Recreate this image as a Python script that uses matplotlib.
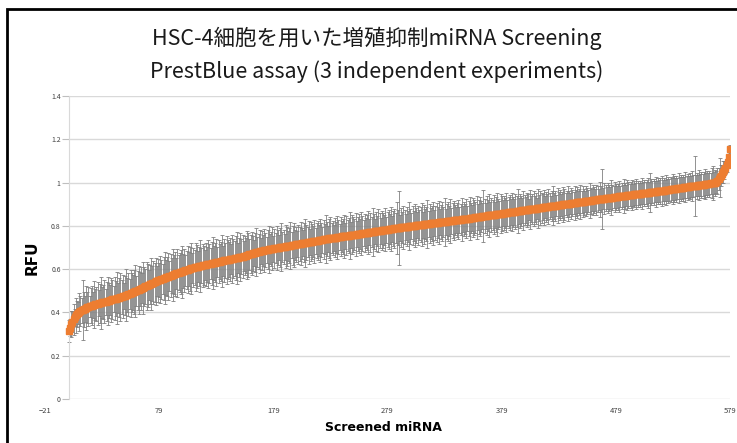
import numpy as np
import matplotlib
matplotlib.use("Agg")
import matplotlib.pyplot as plt
from matplotlib.patches import Rectangle

plt.rcParams['font.family'] = ['Noto Sans CJK JP', 'DejaVu Sans']

title = "HSC-4細胞を用いた増殖抑制miRNA Screening\nPrestBlue assay (3 independent experiments)"
xlabel = "Screened miRNA"
ylabel = "RFU"
xticks = [-21, 79, 179, 279, 379, 479, 579]
yticks = [0, 0.2, 0.4, 0.6, 0.8, 1.0, 1.2, 1.4]
ytick_labels = ["0", "0.2", "0.4", "0.6", "0.8", "1", "1.2", "1.4"]

# mean RFU per miRNA, sorted
rfu = [
    0.315, 0.330, 0.345, 0.358, 0.368, 0.378, 0.386, 0.392, 0.398, 0.402, 0.406, 0.409, 0.412, 0.415, 0.418, 0.420, 0.423, 0.426, 0.428, 0.431,
    0.432, 0.434, 0.436, 0.437, 0.439, 0.440, 0.442, 0.443, 0.445, 0.446, 0.448, 0.449, 0.450, 0.452, 0.453, 0.455, 0.457, 0.458, 0.460, 0.461,
    0.463, 0.464, 0.466, 0.468, 0.469, 0.471, 0.472, 0.474, 0.476, 0.477, 0.479, 0.480, 0.483, 0.485, 0.488, 0.490, 0.493, 0.495, 0.498, 0.500,
    0.503, 0.505, 0.508, 0.510, 0.513, 0.515, 0.518, 0.520, 0.523, 0.525, 0.528, 0.530, 0.533, 0.535, 0.538, 0.540, 0.543, 0.545, 0.548, 0.550,
    0.552, 0.554, 0.556, 0.558, 0.560, 0.562, 0.564, 0.566, 0.568, 0.570, 0.572, 0.574, 0.576, 0.578, 0.580, 0.582, 0.584, 0.586, 0.587, 0.589,
    0.591, 0.593, 0.594, 0.596, 0.598, 0.600, 0.601, 0.603, 0.605, 0.607, 0.608, 0.610, 0.611, 0.612, 0.614, 0.615, 0.616, 0.617, 0.619, 0.620,
    0.621, 0.622, 0.623, 0.625, 0.626, 0.627, 0.628, 0.629, 0.630, 0.631, 0.632, 0.634, 0.635, 0.636, 0.637, 0.638, 0.640, 0.641, 0.642, 0.643,
    0.644, 0.645, 0.646, 0.647, 0.648, 0.650, 0.651, 0.652, 0.653, 0.654, 0.655, 0.657, 0.658, 0.660, 0.662, 0.663, 0.665, 0.666, 0.668, 0.670,
    0.671, 0.673, 0.674, 0.676, 0.678, 0.679, 0.681, 0.682, 0.684, 0.685, 0.686, 0.687, 0.688, 0.689, 0.690, 0.691, 0.692, 0.693, 0.694, 0.695,
    0.696, 0.697, 0.698, 0.699, 0.700, 0.701, 0.702, 0.702, 0.703, 0.704, 0.705, 0.706, 0.707, 0.708, 0.709, 0.710, 0.711, 0.712, 0.713, 0.714,
    0.715, 0.716, 0.717, 0.718, 0.719, 0.720, 0.721, 0.722, 0.723, 0.724, 0.724, 0.725, 0.726, 0.727, 0.728, 0.729, 0.730, 0.731, 0.732, 0.733,
    0.734, 0.735, 0.736, 0.737, 0.738, 0.739, 0.740, 0.741, 0.742, 0.742, 0.743, 0.744, 0.745, 0.746, 0.746, 0.747, 0.748, 0.749, 0.750, 0.751,
    0.751, 0.752, 0.753, 0.754, 0.755, 0.755, 0.756, 0.757, 0.758, 0.759, 0.760, 0.760, 0.761, 0.762, 0.763, 0.764, 0.764, 0.765, 0.766, 0.767,
    0.768, 0.769, 0.769, 0.770, 0.771, 0.772, 0.773, 0.773, 0.774, 0.775, 0.776, 0.777, 0.778, 0.778, 0.779, 0.780, 0.781, 0.782, 0.782, 0.783,
    0.784, 0.785, 0.786, 0.787, 0.787, 0.788, 0.789, 0.790, 0.791, 0.791, 0.792, 0.793, 0.793, 0.794, 0.795, 0.795, 0.796, 0.797, 0.798, 0.798,
    0.799, 0.800, 0.800, 0.801, 0.802, 0.802, 0.803, 0.804, 0.805, 0.805, 0.806, 0.807, 0.807, 0.808, 0.809, 0.809, 0.810, 0.811, 0.812, 0.812,
    0.813, 0.814, 0.814, 0.815, 0.816, 0.816, 0.817, 0.818, 0.819, 0.819, 0.820, 0.821, 0.821, 0.822, 0.823, 0.823, 0.824, 0.825, 0.826, 0.826,
    0.827, 0.828, 0.828, 0.829, 0.830, 0.830, 0.831, 0.832, 0.833, 0.834, 0.834, 0.835, 0.836, 0.837, 0.838, 0.838, 0.839, 0.840, 0.841, 0.841,
    0.842, 0.843, 0.844, 0.845, 0.845, 0.846, 0.847, 0.848, 0.848, 0.849, 0.850, 0.851, 0.852, 0.852, 0.853, 0.854, 0.855, 0.855, 0.856, 0.857,
    0.858, 0.859, 0.859, 0.860, 0.861, 0.862, 0.862, 0.863, 0.864, 0.865, 0.866, 0.866, 0.867, 0.868, 0.869, 0.869, 0.870, 0.871, 0.872, 0.873,
    0.873, 0.874, 0.875, 0.876, 0.876, 0.877, 0.878, 0.879, 0.879, 0.880, 0.881, 0.882, 0.883, 0.883, 0.884, 0.885, 0.886, 0.886, 0.887, 0.888,
    0.889, 0.890, 0.890, 0.891, 0.892, 0.893, 0.893, 0.894, 0.895, 0.896, 0.896, 0.897, 0.898, 0.899, 0.899, 0.900, 0.901, 0.902, 0.903, 0.903,
    0.904, 0.905, 0.906, 0.906, 0.907, 0.908, 0.909, 0.909, 0.910, 0.911, 0.912, 0.912, 0.913, 0.914, 0.915, 0.916, 0.916, 0.917, 0.918, 0.919,
    0.919, 0.920, 0.921, 0.922, 0.922, 0.923, 0.924, 0.925, 0.926, 0.926, 0.927, 0.928, 0.928, 0.929, 0.930, 0.931, 0.931, 0.932, 0.933, 0.933,
    0.934, 0.935, 0.936, 0.936, 0.937, 0.938, 0.938, 0.939, 0.940, 0.941, 0.941, 0.942, 0.943, 0.943, 0.944, 0.945, 0.946, 0.946, 0.947, 0.948,
    0.948, 0.949, 0.950, 0.951, 0.951, 0.952, 0.953, 0.953, 0.954, 0.955, 0.956, 0.956, 0.957, 0.958, 0.958, 0.959, 0.960, 0.961, 0.961, 0.962,
    0.963, 0.963, 0.964, 0.965, 0.966, 0.967, 0.967, 0.968, 0.969, 0.970, 0.971, 0.971, 0.972, 0.973, 0.974, 0.974, 0.975, 0.976, 0.977, 0.978,
    0.978, 0.979, 0.980, 0.981, 0.982, 0.982, 0.983, 0.984, 0.985, 0.986, 0.986, 0.987, 0.988, 0.989, 0.990, 0.990, 0.991, 0.992, 0.993, 0.994,
    0.994, 0.995, 0.996, 0.997, 0.998, 0.999, 1.000, 1.002, 1.008, 1.016, 1.024, 1.032, 1.040, 1.049, 1.058, 1.068, 1.080, 1.095, 1.120, 1.155,
]

# error bar half-widths (SD)
rfu_err = [
    0.05, 0.04, 0.06, 0.05, 0.07, 0.04, 0.08, 0.06, 0.05, 0.09, 0.07, 0.06, 0.14, 0.08, 0.06, 0.10, 0.07, 0.09, 0.05, 0.08,
    0.09, 0.06, 0.11, 0.07, 0.08, 0.10, 0.06, 0.09, 0.12, 0.07, 0.08, 0.10, 0.06, 0.09, 0.11, 0.08, 0.07, 0.10, 0.09, 0.06,
    0.10, 0.08, 0.12, 0.07, 0.09, 0.11, 0.08, 0.10, 0.06, 0.09, 0.12, 0.08, 0.10, 0.07, 0.11, 0.09, 0.08, 0.10, 0.12, 0.07,
    0.09, 0.11, 0.08, 0.10, 0.07, 0.12, 0.09, 0.08, 0.11, 0.10, 0.07, 0.09, 0.12, 0.08, 0.10, 0.09, 0.11, 0.07, 0.10, 0.08,
    0.11, 0.09, 0.07, 0.10, 0.12, 0.08, 0.09, 0.11, 0.07, 0.10, 0.08, 0.12, 0.09, 0.10, 0.07, 0.11, 0.08, 0.09, 0.10, 0.12,
    0.08, 0.10, 0.07, 0.09, 0.11, 0.08, 0.10, 0.12, 0.07, 0.09, 0.08, 0.11, 0.10, 0.07, 0.09, 0.12, 0.08, 0.10, 0.09, 0.07,
    0.10, 0.08, 0.11, 0.09, 0.07, 0.10, 0.12, 0.08, 0.09, 0.11, 0.07, 0.10, 0.08, 0.09, 0.12, 0.07, 0.10, 0.08, 0.11, 0.09,
    0.08, 0.10, 0.07, 0.11, 0.09, 0.08, 0.10, 0.12, 0.07, 0.09, 0.11, 0.08, 0.10, 0.07, 0.09, 0.08, 0.11, 0.10, 0.07, 0.09,
    0.10, 0.08, 0.06, 0.09, 0.11, 0.07, 0.08, 0.10, 0.06, 0.09, 0.07, 0.10, 0.08, 0.06, 0.09, 0.11, 0.07, 0.08, 0.10, 0.06,
    0.09, 0.07, 0.10, 0.08, 0.06, 0.09, 0.11, 0.07, 0.08, 0.06, 0.10, 0.09, 0.07, 0.08, 0.11, 0.06, 0.09, 0.10, 0.07, 0.08,
    0.06, 0.09, 0.08, 0.10, 0.07, 0.06, 0.09, 0.11, 0.08, 0.07, 0.10, 0.06, 0.09, 0.08, 0.07, 0.10, 0.06, 0.08, 0.09, 0.07,
    0.10, 0.08, 0.06, 0.09, 0.07, 0.11, 0.08, 0.06, 0.09, 0.10, 0.07, 0.08, 0.06, 0.09, 0.07, 0.10, 0.08, 0.06, 0.09, 0.07,
    0.08, 0.10, 0.06, 0.09, 0.07, 0.08, 0.11, 0.06, 0.09, 0.08, 0.07, 0.10, 0.06, 0.08, 0.09, 0.07, 0.10, 0.08, 0.06, 0.09,
    0.07, 0.08, 0.10, 0.06, 0.09, 0.07, 0.11, 0.08, 0.06, 0.09, 0.07, 0.10, 0.08, 0.06, 0.09, 0.08, 0.07, 0.10, 0.06, 0.08,
    0.09, 0.07, 0.10, 0.06, 0.08, 0.09, 0.07, 0.12, 0.08, 0.17, 0.06, 0.09, 0.07, 0.10, 0.08, 0.06, 0.09, 0.07, 0.11, 0.08,
    0.06, 0.09, 0.07, 0.10, 0.08, 0.06, 0.09, 0.07, 0.08, 0.10, 0.06, 0.09, 0.07, 0.08, 0.11, 0.06, 0.09, 0.07, 0.08, 0.10,
    0.06, 0.08, 0.09, 0.07, 0.10, 0.06, 0.08, 0.09, 0.07, 0.11, 0.06, 0.08, 0.09, 0.07, 0.10, 0.06, 0.08, 0.09, 0.07, 0.06,
    0.08, 0.09, 0.06, 0.07, 0.10, 0.06, 0.08, 0.07, 0.09, 0.06, 0.08, 0.10, 0.07, 0.06, 0.09, 0.08, 0.07, 0.10, 0.06, 0.08,
    0.09, 0.07, 0.06, 0.12, 0.08, 0.06, 0.09, 0.07, 0.10, 0.06, 0.08, 0.07, 0.09, 0.06, 0.08, 0.10, 0.07, 0.06, 0.09, 0.08,
    0.06, 0.08, 0.07, 0.09, 0.06, 0.07, 0.08, 0.06, 0.09, 0.07, 0.06, 0.08, 0.07, 0.10, 0.06, 0.08, 0.07, 0.06, 0.09, 0.07,
    0.06, 0.08, 0.07, 0.05, 0.09, 0.06, 0.07, 0.08, 0.06, 0.07, 0.05, 0.09, 0.06, 0.08, 0.07, 0.06, 0.08, 0.05, 0.07, 0.06,
    0.08, 0.06, 0.05, 0.07, 0.09, 0.06, 0.07, 0.05, 0.08, 0.06, 0.07, 0.05, 0.06, 0.08, 0.07, 0.05, 0.06, 0.08, 0.06, 0.05,
    0.07, 0.06, 0.05, 0.08, 0.06, 0.07, 0.05, 0.06, 0.08, 0.05, 0.07, 0.06, 0.05, 0.07, 0.06, 0.05, 0.08, 0.06, 0.05, 0.07,
    0.06, 0.05, 0.07, 0.06, 0.05, 0.08, 0.06, 0.14, 0.05, 0.07, 0.06, 0.05, 0.07, 0.06, 0.05, 0.08, 0.06, 0.05, 0.07, 0.06,
    0.05, 0.06, 0.07, 0.05, 0.06, 0.05, 0.08, 0.06, 0.05, 0.07, 0.06, 0.05, 0.06, 0.07, 0.05, 0.06, 0.05, 0.07, 0.06, 0.05,
    0.06, 0.05, 0.07, 0.05, 0.06, 0.05, 0.06, 0.07, 0.05, 0.09, 0.06, 0.05, 0.06, 0.05, 0.07, 0.05, 0.06, 0.05, 0.06, 0.07,
    0.05, 0.06, 0.05, 0.07, 0.05, 0.06, 0.05, 0.06, 0.05, 0.07, 0.06, 0.05, 0.06, 0.05, 0.07, 0.05, 0.06, 0.05, 0.06, 0.05,
    0.07, 0.05, 0.06, 0.05, 0.06, 0.05, 0.07, 0.05, 0.14, 0.05, 0.06, 0.05, 0.07, 0.05, 0.06, 0.05, 0.06, 0.07, 0.05, 0.06,
    0.05, 0.06, 0.05, 0.07, 0.08, 0.05, 0.06, 0.05, 0.06, 0.05, 0.09, 0.05, 0.04, 0.05, 0.04, 0.03, 0.03, 0.02, 0.02, 0.02,
]

rank = np.arange(len(rfu))

fig = plt.figure(figsize=(7.37, 4.43), dpi=100)
ax = fig.add_axes([0.0611, 0.0993, 0.9294, 0.684])

grid_c = "#d9d9d9"
for y in yticks:
    ax.plot([0, xticks[-1]], [y, y], color=grid_c, lw=1.0, zorder=0)

ax.errorbar(rank, rfu, yerr=rfu_err, fmt="none", ecolor="#808080",
            elinewidth=0.6, capsize=1.4, capthick=0.6, zorder=2)
ax.plot(rank, rfu, "s", ms=4.2, color="#ED7D31", mec="#ED7D31", zorder=3)

ax.set_xlim(xticks[0], xticks[-1])
ax.set_ylim(0, 1.4)
for s in ["top", "right", "bottom"]:
    ax.spines[s].set_visible(False)
ax.spines["left"].set_position(("data", 0))
ax.spines["left"].set_color(grid_c)
ax.set_yticks(yticks)
ax.set_yticklabels(ytick_labels)
ax.tick_params(axis="y", length=5, color="#bfbfbf", labelsize=5, pad=1,
               labelcolor="#404040")
ax.set_xticks(xticks)
ax.tick_params(axis="x", length=0, labelsize=5.5, pad=6, labelcolor="#404040")

fig.text(0.5115, 0.876, title, ha="center", va="center", fontsize=15.5,
         linespacing=1.6, color="#1a1a1a")
fig.text(0.5197, 0.034, xlabel, ha="center", va="center", fontsize=9,
         fontweight="bold", family="DejaVu Sans")
fig.text(0.043, 0.418, ylabel, ha="center", va="center", fontsize=11,
         fontweight="bold", rotation=90, family="DejaVu Sans")

fig.add_artist(Rectangle((7 / 737, -0.1), 1.2, 1.1 - 9 / 443,
                         transform=fig.transFigure, fill=False,
                         lw=2, ec="black", clip_on=False))

plt.savefig("out.png", dpi=100)
